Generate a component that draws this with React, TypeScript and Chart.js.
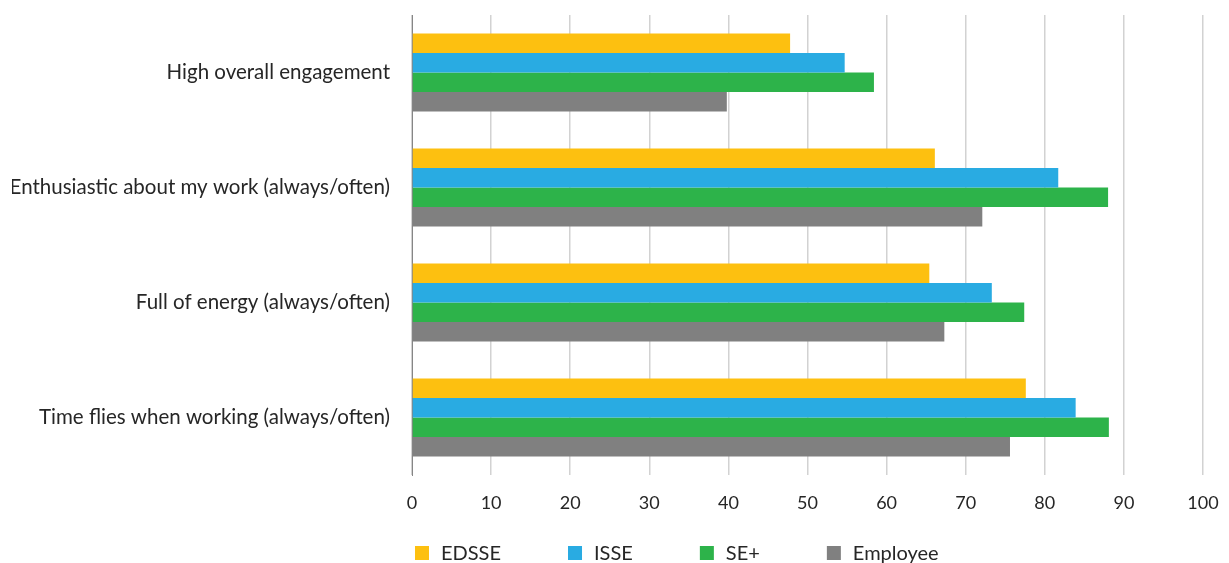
import React, { useEffect, useRef } from "react";
import { Chart, registerables } from "chart.js";

Chart.register(...registerables);

const categories = [
  "High overall engagement",
  "Enthusiastic about my work (always/often)",
  "Full of energy (always/often)",
  "Time flies when working (always/often)",
];
const seriesNames = ["EDSSE", "ISSE", "SE+", "Employee"];
const edsse = [47.8, 66.1, 65.4, 77.6];
const isse = [54.7, 81.7, 73.3, 83.9];
const sePlus = [58.4, 88.0, 77.4, 88.1];
const employee = [39.8, 72.1, 67.3, 75.6];
const seriesColors = ["#FDC010", "#29ABE2", "#2DB34A", "#808080"];
const xTicks = [0, 10, 20, 30, 40, 50, 60, 70, 80, 90, 100];

const FONT = "Lato, 'Noto Sans', sans-serif";

const legendPlugin = {
  id: "customLegend",
  afterDraw(chart: any) {
    const ctx = chart.ctx;
    const area = chart.chartArea;
    ctx.save();
    ctx.font = `20px ${FONT}`;
    ctx.textBaseline = "middle";
    ctx.textAlign = "left";
    let x = area.left + 3;
    const y = 553;
    const box = 14;
    const gap = 12;
    const spacing = 67;
    chart.data.datasets.forEach((ds: any) => {
      ctx.fillStyle = ds.backgroundColor;
      ctx.fillRect(x, y - box / 2, box, box);
      ctx.fillStyle = "#262626";
      ctx.fillText(ds.label, x + box + gap, y + 1);
      const w = ctx.measureText(ds.label).width;
      x += box + gap + w + spacing;
    });
    ctx.restore();
  },
};

export default function App() {
  const ref = useRef<HTMLCanvasElement | null>(null);
  useEffect(() => {
    const seriesValues = [edsse, isse, sePlus, employee];
    const chart = new Chart(ref.current as HTMLCanvasElement, {
      type: "bar",
      data: {
        labels: categories,
        datasets: seriesNames.map((name, i) => ({
          label: name,
          data: seriesValues[i],
          backgroundColor: seriesColors[i],
          borderWidth: 0,
          categoryPercentage: 0.68,
          barPercentage: 1.0,
        })),
      },
      options: {
        indexAxis: "y",
        animation: false,
        responsive: true,
        maintainAspectRatio: false,
        layout: { padding: { left: 12, right: 26, top: 15, bottom: 0 } },
        plugins: {
          legend: { display: false },
          tooltip: { enabled: false },
        },
        scales: {
          x: {
            min: 0,
            max: 100,
            afterBuildTicks: (scale: any) => {
              scale.ticks = xTicks.map((v) => ({ value: v }));
            },
            afterFit: (scale: any) => {
              scale.height = 88;
              scale.paddingLeft = 0;
              scale.paddingRight = 0;
              scale.paddingTop = 0;
              scale.paddingBottom = 0;
            },
            grid: { color: "#d2d2d2", lineWidth: 1.5, drawTicks: false },
            border: { display: false },
            ticks: {
              padding: 17,
              color: "#262626",
              font: { family: FONT, size: 18 },
            },
          },
          y: {
            afterFit: (scale: any) => {
              scale.width = 400;
              scale.paddingLeft = 0;
              scale.paddingRight = 0;
              scale.paddingTop = 0;
              scale.paddingBottom = 0;
            },
            grid: { display: false, drawTicks: false },
            border: { display: true, color: "#868686", width: 1 },
            ticks: {
              padding: 22,
              color: "#262626",
              font: { family: FONT, size: 20.5 },
            },
          },
        },
      },
      plugins: [legendPlugin],
    });
    return () => chart.destroy();
  }, []);
  return (
    <div style={{ position: "fixed", left: 0, top: 0, width: 1229, height: 563 }}>
      <canvas ref={ref} />
    </div>
  );
}
